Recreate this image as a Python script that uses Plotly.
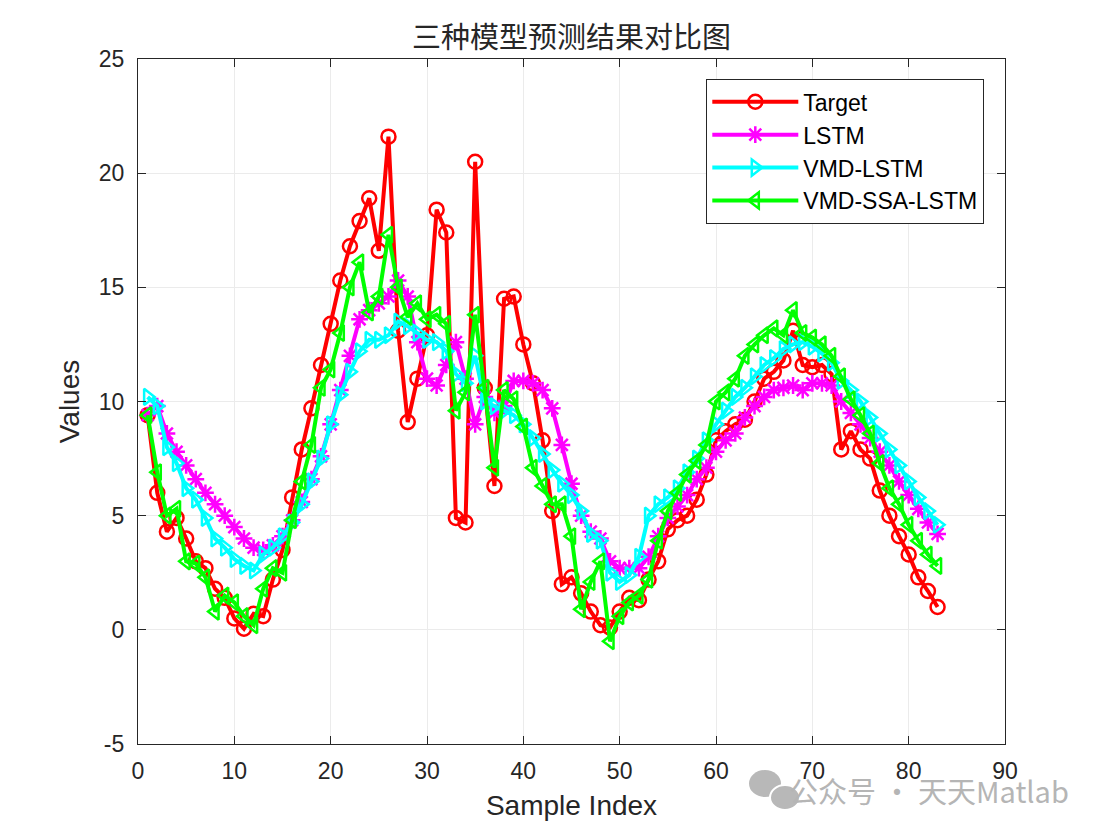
import plotly.graph_objects as go

sample_index = list(range(1, 84))

target = [9.4, 6.0, 4.3, 4.9, 4.0, 3.0, 2.7, 1.8, 1.4, 0.5,
          0.05, 0.7, 0.6, 2.2, 3.5, 5.8, 7.9, 9.7, 11.6, 13.4,
          15.3, 16.8, 17.9, 18.9, 16.6, 21.6, 13.1, 9.1, 11.0, 12.9,
          18.4, 17.4, 4.9, 4.7, 20.5, 10.6, 6.3, 14.5, 14.6, 12.5,
          10.8, 8.3, 5.2, 2.0, 2.3, 1.6, 0.8, 0.2, 0.1, 0.8,
          1.4, 1.3, 2.2, 3.0, 4.4, 4.8, 5.0, 5.7, 6.8, 8.3,
          8.7, 9.0, 9.2, 10.0, 11.0, 11.3, 11.8, 13.1, 11.6, 11.5,
          11.6, 11.2, 7.9, 8.7, 7.9, 7.5, 6.1, 5.0, 4.1, 3.3,
          2.3, 1.7, 1.0]

lstm = [9.4, 9.8, 8.6, 7.8, 7.2, 6.6, 6.0, 5.5, 5.0, 4.5,
        4.0, 3.6, 3.5, 3.7, 4.1, 4.8, 5.6, 6.6, 7.6, 9.0,
        10.5, 12.0, 13.6, 14.0, 14.3, 14.6, 15.3, 14.6, 12.6, 11.0,
        10.7, 11.6, 12.6, 11.0, 9.0, 10.2, 9.5, 9.8, 10.9, 10.9,
        10.8, 10.5, 9.7, 8.1, 6.4, 5.0, 4.3, 4.0, 3.0, 2.7,
        2.7, 2.7, 3.2, 4.1, 4.9, 5.4, 5.9, 6.6, 7.1, 7.8,
        8.3, 8.6, 9.3, 9.8, 10.2, 10.5, 10.6, 10.7, 10.5, 10.8,
        10.8, 10.7, 10.0, 9.5, 9.0, 8.4, 7.8, 7.2, 6.5, 5.9,
        5.3, 4.7, 4.2]

vmd_lstm = [10.2, 9.8, 8.0, 7.3, 6.2, 5.7, 4.9, 4.0, 3.6, 3.1,
            2.8, 2.6, 3.3, 3.6, 4.1, 4.7, 5.5, 6.5, 7.5, 9.0,
            10.3, 11.3, 12.2, 12.7, 12.7, 12.9, 13.5, 13.3, 13.0, 12.7,
            12.6, 12.2, 11.2, 10.8, 12.0, 10.0, 9.8, 9.6, 9.4, 9.0,
            8.4, 7.7, 7.0, 6.4, 5.9, 5.2, 4.2, 3.9, 2.5, 2.1,
            2.4, 3.2, 5.0, 5.5, 5.8, 6.2, 6.9, 7.5, 8.3, 9.0,
            9.6, 10.2, 10.6, 11.1, 11.6, 11.9, 12.3, 12.5, 12.6, 12.4,
            12.1, 11.7, 10.9, 10.5, 10.0, 9.3, 8.6, 7.9, 7.2, 6.5,
            5.8, 5.2, 4.6]

vmd_ssa_lstm = [9.4, 6.9, 5.0, 5.3, 3.0, 2.9, 2.3, 0.8, 1.5, 1.2,
                0.6, 0.2, 1.8, 2.7, 2.5, 4.8, 6.5, 8.1, 10.6, 11.4,
                13.0, 15.0, 16.1, 13.9, 14.6, 17.3, 15.0, 13.7, 14.3, 13.6,
                13.8, 13.4, 9.6, 10.4, 13.8, 10.6, 7.1, 10.5, 10.1, 8.9,
                7.1, 6.3, 5.5, 5.5, 4.1, 0.9, 2.1, 3.0, -0.5, 0.6,
                1.2, 1.5, 2.2, 3.9, 5.2, 6.0, 6.8, 7.4, 8.1, 10.0,
                10.4, 11.0, 12.0, 12.5, 12.9, 13.2, 12.9, 14.0, 13.0, 12.8,
                12.5, 12.0, 11.1, 10.1, 9.4, 8.6, 7.3, 6.2, 5.5, 4.6,
                3.9, 3.3, 2.8]

series_names = ["Target", "LSTM", "VMD-LSTM", "VMD-SSA-LSTM"]
series_values = [target, lstm, vmd_lstm, vmd_ssa_lstm]
series_colors = ["#ff0000", "#ff00ff", "#00ffff", "#00ff00"]
series_symbols = ["circle-open", "asterisk-open", "triangle-right-open", "triangle-left-open"]

x_ticks = [0, 10, 20, 30, 40, 50, 60, 70, 80, 90]
y_ticks = [-5, 0, 5, 10, 15, 20, 25]

fig = go.Figure()
for name, vals, col, sym in zip(series_names, series_values, series_colors, series_symbols):
    fig.add_trace(go.Scatter(
        x=sample_index, y=vals, name=name, mode="lines+markers",
        line=dict(color=col, width=4),
        marker=dict(symbol=sym, size=14, color=col, line=dict(color=col, width=2.5)),
    ))

# target plot-area edges in page pixels; page body has an 8px offset
OFF = 8
L, R, T, B = 138, 1005, 59, 744
W, H = 1111, 832

def px2paper(px, py):
    return (px - L) / (R - L), (B - py) / (B - T)

axis_common = dict(
    showline=True, linecolor="#262626", linewidth=1.3, mirror="ticks",
    ticks="inside", ticklen=8, tickwidth=1.2, tickcolor="#262626",
    showgrid=True, gridcolor="#ebebeb", gridwidth=1, zeroline=False,
    tickfont=dict(family="Liberation Sans, Arial, sans-serif", size=23, color="#262626"),
)

fig.update_xaxes(range=[0, 90], tickmode="array", tickvals=x_ticks,
                 ticktext=[str(v) for v in x_ticks],
                 title=dict(text="Sample Index", standoff=12,
                            font=dict(family="Liberation Sans, Arial, sans-serif", size=28, color="#262626")),
                 ticklabelstandoff=6, **axis_common)
fig.update_yaxes(range=[-5, 25], tickmode="array", tickvals=y_ticks,
                 ticktext=[str(v) for v in y_ticks],
                 title=dict(text="Values", standoff=10,
                            font=dict(family="Liberation Sans, Arial, sans-serif", size=28, color="#262626")),
                 ticklabelstandoff=8, **axis_common)

lx, ly = px2paper(984, 79)
fig.update_layout(
    width=W, height=H,
    margin=dict(l=L - OFF, r=W - R + OFF, t=T - OFF, b=H - B + OFF),
    paper_bgcolor="white", plot_bgcolor="white",
    title=dict(text="三种模型预测结果对比图", x=((L + R) / 2 - OFF) / W, xanchor="center",
               y=1 - (38 - OFF) / H, yanchor="middle", yref="container",
               font=dict(family="Noto Sans CJK SC, sans-serif", size=29, color="#262626")),
    legend=dict(x=lx, y=ly, xanchor="right", yanchor="top",
                bgcolor="white", bordercolor="#262626", borderwidth=1.3,
                font=dict(family="Liberation Sans, Arial, sans-serif", size=23, color="black"),
                tracegroupgap=0, itemwidth=86),
    showlegend=True,
)

# watermark
wx, wy = px2paper(929, 790)
fig.add_annotation(x=wx, y=wy, xref="paper", yref="paper", text="公众号 · 天天Matlab",
                   showarrow=False, xanchor="center", yanchor="middle",
                   font=dict(family="Noto Sans CJK SC, sans-serif", size=29, color="#b5b5b5"))
x0, y0 = px2paper(749, 770)
x1, y1 = px2paper(781, 797)
fig.add_shape(type="circle", xref="paper", yref="paper", x0=x0, y0=y1, x1=x1, y1=y0,
              fillcolor="#b8b8b8", line=dict(color="#b8b8b8", width=0))
x0, y0 = px2paper(770, 785)
x1, y1 = px2paper(800, 810)
fig.add_shape(type="circle", xref="paper", yref="paper", x0=x0, y0=y1, x1=x1, y1=y0,
              fillcolor="#b8b8b8", line=dict(color="white", width=2))

fig.write_html("out.html")
